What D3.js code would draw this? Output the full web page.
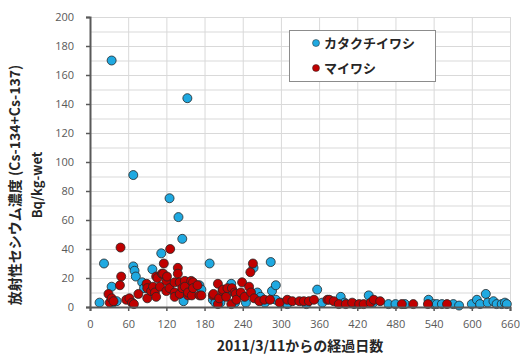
<!DOCTYPE html>
<html>
<head>
<meta charset="utf-8">
<script src="https://cdn.jsdelivr.net/npm/d3@7"></script>
<style>
  body { margin: 0; background: #fff; }
  svg { display: block; }
</style>
</head>
<body>
<svg id="chart" width="520" height="354"></svg>
<script>
const seriesNames = ['カタクチイワシ', 'マイワシ'];
const seriesColors = ['#1fa9e1', '#c00000'];

// カタクチイワシ: days since 2011/3/11, Bq/kg-wet
const anchovyDays = [15, 22, 34, 36, 42, 68, 68, 70, 72, 82, 85, 98, 112, 125, 139, 145, 147, 153, 34,
  172, 175, 188, 193, 197, 205, 213, 222, 228, 245, 257, 263, 268, 275, 284, 286, 292, 292, 300, 310,
  340, 357, 365, 394, 400, 415, 438, 445, 469, 480, 495, 532, 540, 545, 553, 571, 580, 600, 608, 613,
  622, 625, 634, 639, 647, 652, 655];
const anchovyValues = [3, 30, 14, 3, 4, 28, 91, 25, 21, 17, 13, 26, 37, 75, 62, 47, 4, 144, 170,
  15, 12, 30, 5, 3, 3, 8, 16, 3, 3, 27, 10, 7, 3, 31, 11, 15, 5, 3, 2,
  2, 12, 3, 7, 3, 2, 8, 3, 2, 2, 2, 5, 2, 2, 2, 2, 1, 2, 5, 2,
  9, 3, 4, 2, 2, 3, 2];

// マイワシ
const sardineDays = [29, 31, 34, 37, 48, 49, 47, 57, 62, 66, 69, 76, 89, 90, 90, 96, 99, 102, 104, 104,
  106, 110, 113, 116, 115, 120, 120, 121, 125, 126, 133, 133, 133, 138, 138, 141, 141, 145, 149, 149,
  154, 154, 159, 160, 162, 162, 169, 172, 175, 193, 194, 201, 201, 203, 208, 209, 214, 216, 222, 223,
  227, 229, 230, 237, 239, 243, 250, 252, 253, 256, 258, 266, 274, 283, 298, 310, 318, 329, 336, 344,
  352, 373, 376, 383, 391, 402, 412, 423, 430, 441, 446, 456, 490, 508, 531, 561];
const sardineValues = [9, 3, 6, 4, 41, 21, 15, 5, 6, 3, 2, 9, 16, 13, 6, 11, 14, 10, 7, 21,
  20, 14, 23, 30, 23, 18, 11, 21, 13, 40, 17, 10, 7, 27, 23, 17, 9, 13, 18, 14,
  8, 10, 18, 8, 17, 13, 15, 8, 8, 8, 9, 16, 2, 6, 11, 12, 7, 13, 2, 13,
  10, 9, 5, 10, 17, 7, 14, 24, 10, 30, 6, 4, 5, 5, 3, 5, 4, 4, 4, 4,
  5, 5, 5, 4, 2, 2, 3, 2, 2, 3, 5, 4, 2, 2, 2, 2];

const xTicks = d3.range(0, 661, 60);
const yTicks = d3.range(0, 201, 20);
const yGrid = d3.range(0, 201, 10);

const svg = d3.select('#chart');
const width = +svg.attr('width');
const height = +svg.attr('height');
const margin = { top: 17, right: 10, bottom: 47, left: 90 };
const w = width - margin.left - margin.right;
const h = height - margin.top - margin.bottom;

const x = d3.scaleLinear().domain([0, 660]).range([0, w]);
const y = d3.scaleLinear().domain([0, 200]).range([h, 0]);

const g = svg.append('g').attr('transform', `translate(${margin.left},${margin.top})`);

// grid
g.append('g')
  .call(d3.axisLeft(y).tickValues(yGrid).tickSize(-w).tickFormat(''))
  .call(s => s.select('.domain').remove())
  .call(s => s.selectAll('line').attr('stroke', '#d9d9d9'));
g.append('g')
  .attr('transform', `translate(0,${h})`)
  .call(d3.axisBottom(x).tickValues(xTicks).tickSize(-h).tickFormat(''))
  .call(s => s.select('.domain').remove())
  .call(s => s.selectAll('line').attr('stroke', '#d9d9d9'));

// points
const anchovy = anchovyDays.map((d, i) => ({ d, v: anchovyValues[i] }));
const sardine = sardineDays.map((d, i) => ({ d, v: sardineValues[i] }));
[anchovy, sardine].forEach((data, k) => {
  g.append('g').selectAll('circle')
    .data(data)
    .enter()
    .append('circle')
    .attr('cx', p => x(p.d))
    .attr('cy', p => y(p.v))
    .attr('r', 4.5)
    .attr('fill', seriesColors[k])
    .attr('stroke', '#262626')
    .attr('stroke-width', 0.8);
});

// axes
const tickFont = 'Open Sans, sans-serif';
const yAxis = g.append('g').call(d3.axisLeft(y).tickValues(yTicks).tickSize(4).tickPadding(12));
const xAxis = g.append('g').attr('transform', `translate(0,${h})`)
  .call(d3.axisBottom(x).tickValues(xTicks).tickSize(4).tickPadding(9));
[yAxis, xAxis].forEach(a => {
  a.select('.domain').attr('stroke', '#595959').attr('stroke-width', 2);
  a.selectAll('.tick line').attr('stroke', '#595959').attr('stroke-width', 1.5);
  a.selectAll('text').attr('fill', '#595959').style('font-family', tickFont).style('font-size', '11px');
});

// axis titles
const titleFont = '"Noto Sans CJK JP", sans-serif';
svg.append('text')
  .attr('transform', 'translate(20,185) rotate(-90)')
  .attr('text-anchor', 'middle')
  .style('font-family', titleFont).style('font-size', '14px').style('font-weight', 'bold')
  .attr('fill', '#262626')
  .text('放射性セシウム濃度 (Cs-134+Cs-137)');
svg.append('text')
  .attr('transform', 'translate(42,185) rotate(-90)')
  .attr('text-anchor', 'middle')
  .style('font-family', titleFont).style('font-size', '13px').style('font-weight', 'bold')
  .attr('fill', '#262626')
  .text('Bq/kg-wet');
svg.append('text')
  .attr('x', 300).attr('y', 351)
  .attr('text-anchor', 'middle')
  .style('font-family', titleFont).style('font-size', '14px').style('font-weight', 'bold')
  .attr('fill', '#262626')
  .text('2011/3/11からの経過日数');

// legend
const legend = svg.append('g');
legend.append('rect')
  .attr('x', 289.5).attr('y', 30.5).attr('width', 146).attr('height', 51)
  .attr('fill', '#fff').attr('stroke', '#8c8c8c');
seriesNames.forEach((name, i) => {
  const ly = 43 + i * 25;
  legend.append('circle')
    .attr('cx', 316).attr('cy', ly).attr('r', 3.5)
    .attr('fill', seriesColors[i]).attr('stroke', '#262626').attr('stroke-width', 0.5);
  legend.append('text')
    .attr('x', 324).attr('y', ly + 5)
    .style('font-family', titleFont).style('font-size', '13px').style('font-weight', 'bold')
    .attr('fill', '#262626')
    .text(name);
});
</script>
</body>
</html>
